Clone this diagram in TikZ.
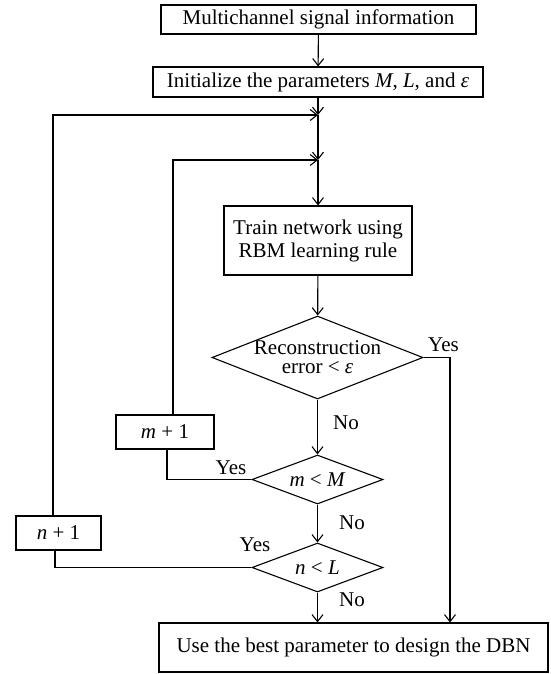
\documentclass[tikz,border=0pt]{standalone}
\usepackage{fontspec}
\setmainfont{Liberation Serif}
\usetikzlibrary{shapes.geometric,arrows.meta}

\tikzset{
  box/.style={draw, rectangle, inner sep=0pt, align=center},
  test/.style={draw, diamond, inner sep=-30pt, align=center},
}

\begin{document}
\begin{tikzpicture}[x=1pt, y=-1pt, line width=1.1pt,
  >={Straight Barb[length=7pt,width=11pt]},
  font=\fontsize{21}{23}\selectfont]
\useasboundingbox (0,0) rectangle (550,674);

\node[box, minimum width=315pt, minimum height=29pt] (info) at (318.5,19.5) {Multichannel signal information};
\node[box, minimum width=330pt, minimum height=30pt] (init) at (318,82) {Initialize the parameters \textit{M}, \textit{L}, and \textit{ε}};
\node[box, minimum width=188pt, minimum height=69pt] (train) at (318,240.5) {Train network using\\RBM learning rule};
\node[test, minimum width=211pt, minimum height=83pt, font=\fontsize{21}{19}\selectfont] (recon) at (317.5,357.5) {Reconstruction\\error < \textit{ε}};
\node[test, minimum width=131pt, minimum height=49pt] (mlt) at (317.5,479.5) {\textit{m} < \textit{M}};
\node[test, minimum width=131pt, minimum height=49pt] (nlt) at (317.5,567.5) {\textit{n} < \textit{L}};
\node[box, minimum width=98pt, minimum height=34pt] (mplus) at (165,432) {\textit{m} + 1};
\node[box, minimum width=85pt, minimum height=34pt] (nplus) at (58.5,533) {\textit{n} + 1};
\node[box, minimum width=389pt, minimum height=49pt] (final) at (353.5,647.5) {Use the best parameter to design the DBN};

% labels
\node (yes1) at (443.5,345) {Yes};
\node (no1) at (346,422.5) {No};
\node (yes2) at (231,467.5) {Yes};
\node (no2) at (352,522.5) {No};
\node (yes3) at (255,545) {Yes};
\node (no3) at (352,600) {No};

\coordinate (jn) at (318,115);
\coordinate (jm) at (318,160);

\draw[->] (info) -- (init);
\draw[->] (init) -- (jn);
\draw[->] (jn) -- (jm);
\draw[->] (jm) -- (train);
\draw[->] (train) -- (recon);
\draw[->] (recon) -- (mlt);
\draw[->] (mlt) -- (nlt);
\draw[->] (nlt) -- (nlt |- final.north);
\draw[->] (recon.east) -| ([xshift=96.5pt]final.north);

% loops back
\draw (mlt.west) -| ([xshift=2pt]mplus.south);
\draw[->] ([xshift=8pt]mplus.north) |- (jm);
\draw (nlt.west) -| ([xshift=-3.5pt]nplus.south);
\draw[->] ([xshift=-5.5pt]nplus.north) |- (jn);
\end{tikzpicture}
\end{document}
